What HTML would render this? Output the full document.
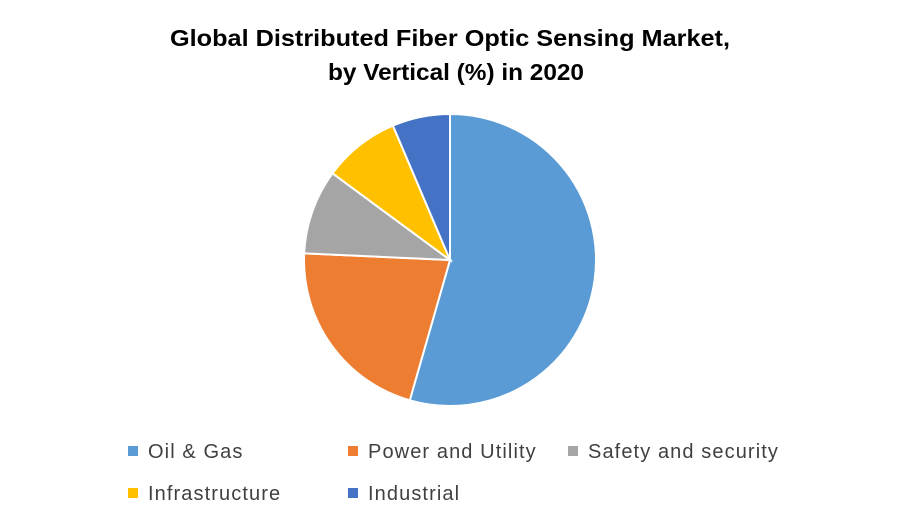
<!DOCTYPE html>
<html><head><meta charset="utf-8"><style>
body{margin:0;background:#fff;width:900px;height:525px;overflow:hidden;font-family:"Liberation Sans",sans-serif}
</style></head><body>
<svg width="900" height="525">
<text x="450" y="46" text-anchor="middle" font-weight="bold" font-size="23" fill="#000" textLength="560" lengthAdjust="spacingAndGlyphs">Global Distributed Fiber Optic Sensing Market,</text>
<text x="456" y="80" text-anchor="middle" font-weight="bold" font-size="23" fill="#000" textLength="256" lengthAdjust="spacingAndGlyphs">by Vertical (%) in 2020</text>
<g id="pie"></g>
<g id="legend"></g>
</svg>
<script>
const categories=["Oil & Gas","Power and Utility","Safety and security","Infrastructure","Industrial"];
const values=[54.5,21.3,9.4,8.5,6.4];
const colors=["#5b9bd5","#ed7d31","#a5a5a5","#ffc000","#4472c4"];
const ns="http://www.w3.org/2000/svg";
const cx=450,cy=260,r=146;
const total=values.reduce((a,b)=>a+b,0);
const pie=document.getElementById('pie');
let a0=0;
values.forEach((v,i)=>{
  const a1=a0+v/total*Math.PI*2;
  const x0=cx+r*Math.sin(a0),y0=cy-r*Math.cos(a0);
  const x1=cx+r*Math.sin(a1),y1=cy-r*Math.cos(a1);
  const p=document.createElementNS(ns,'path');
  p.setAttribute('d',`M${cx},${cy}L${x0},${y0}A${r},${r} 0 ${a1-a0>Math.PI?1:0} 1 ${x1},${y1}Z`);
  p.setAttribute('fill',colors[i]);p.setAttribute('stroke','#fff');p.setAttribute('stroke-width','2');
  
  
  pie.appendChild(p);a0=a1;
});
const leg=document.getElementById('legend');
const pos=[[133,451],[353,451],[573,451],[133,493],[353,493]];
categories.forEach((c,i)=>{
  const g=document.createElementNS(ns,'g');
  
  
  const s=document.createElementNS(ns,'rect');
  s.setAttribute('x',pos[i][0]-5);s.setAttribute('y',pos[i][1]-5);s.setAttribute('width',10);s.setAttribute('height',10);s.setAttribute('fill',colors[i]);
  const t=document.createElementNS(ns,'text');
  t.setAttribute('x',pos[i][0]+15);t.setAttribute('y',pos[i][1]+7);t.setAttribute('font-size','20');t.setAttribute('fill','#404040');
  t.setAttribute('letter-spacing','1.1');
  t.textContent=c;
  g.appendChild(s);g.appendChild(t);leg.appendChild(g);
});
</script>
</body></html>
